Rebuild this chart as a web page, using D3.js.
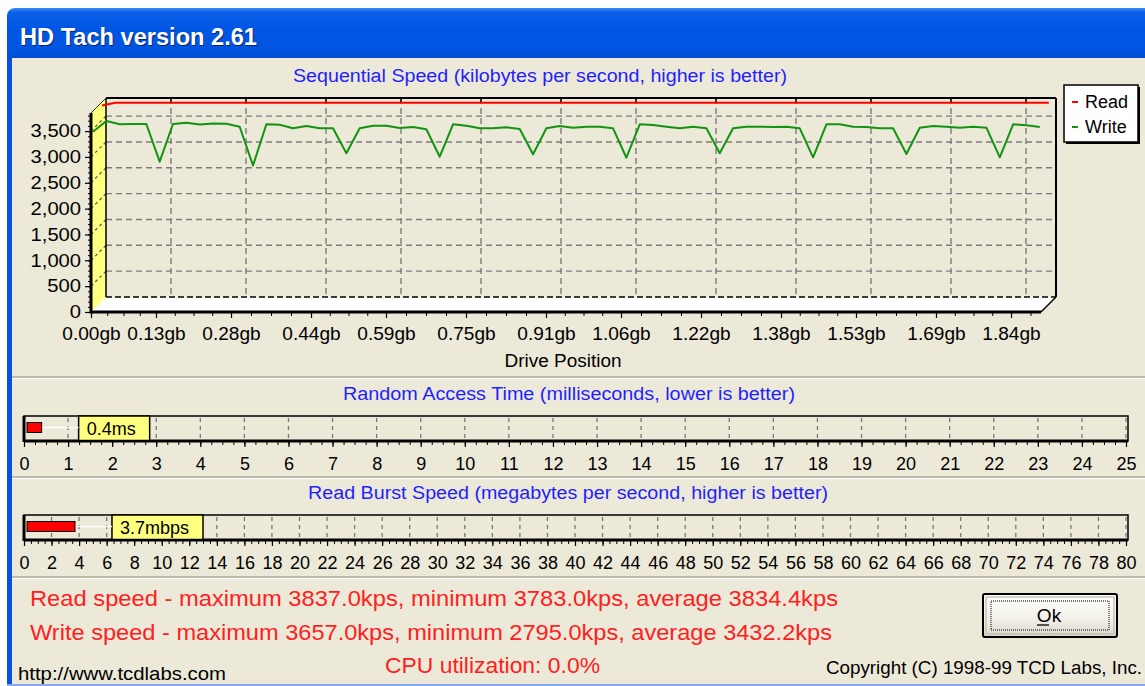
<!DOCTYPE html>
<html><head><meta charset="utf-8">
<script src="https://cdn.jsdelivr.net/npm/d3@7/dist/d3.min.js"></script>
<style>
body{margin:0;background:#fff;}
svg{display:block;font-family:"Liberation Sans",Arial,sans-serif;}
</style>
</head><body>
<svg id="c" width="1145" height="686"></svg>
<script>
// ---------------- DATA ----------------
const seriesNames = ["Read", "Write"];
const readSpeed = [
  3783,3836,3835,3837,3835,3834,3836,3835,3837,3834,3835,3836,
  3835,3834,3836,3837,3835,3834,3835,3836,3834,3835,3837,3836,
  3835,3834,3836,3835,3834,3835,3837,3836,3834,3835,3836,3835,
  3834,3837,3835,3836,3834,3835,3836,3835,3837,3834,3835,3836,
  3835,3834,3836,3837,3835,3834,3835,3836,3834,3835,3837,3836,
  3835,3834,3836,3835,3834,3835,3837,3836,3834,3835,3836,3835
];
const writeSpeed = [
  3449,3657,3593,3598,3598,2869,3598,3624,3590,3610,3605,3546,
  2795,3593,3585,3515,3560,3515,3515,3032,3515,3566,3566,3521,
  3540,3496,2966,3593,3566,3515,3515,3534,3502,3012,3515,3560,
  3527,3546,3546,3515,2946,3593,3579,3546,3515,3546,3515,3032,
  3515,3546,3546,3540,3546,3515,2954,3593,3593,3546,3540,3515,
  3515,3018,3527,3560,3546,3527,3546,3527,2954,3593,3573,3540
];
const sampleStepGb = 0.02667;          // drive position between samples
const driveSizeGb = 1.9;
const speedMax = 3850;
const yTickValues = [0,500,1000,1500,2000,2500,3000,3500];
const xTickValues = [0,0.13,0.28,0.44,0.59,0.75,0.91,1.06,1.22,1.38,1.53,1.69,1.84];
const xTickLabels = ["0.00gb","0.13gb","0.28gb","0.44gb","0.59gb","0.75gb","0.91gb","1.06gb","1.22gb","1.38gb","1.53gb","1.69gb","1.84gb"];

const accessTimeMs = 0.4;
const accessLabel = "0.4ms";
const accessTicks = d3.range(0, 26, 1);
const burstMbps = 3.7;
const burstLabel = "3.7mbps";
const burstTicks = d3.range(0, 81, 2);

const statLines = [
  "Read speed - maximum 3837.0kps, minimum 3783.0kps, average 3834.4kps",
  "Write speed - maximum 3657.0kps, minimum 2795.0kps, average 3432.2kps"
];
const cpuText = "CPU utilization: 0.0%";

// ---------------- DRAW ----------------
const W = 1145, H = 686;
const BG = "#ECE9D8";
const BLUE_T = "#1f1fff";
const RED_T = "#ff2020";
const svg = d3.select("#c");
const defs = svg.append("defs");

const tg = defs.append("linearGradient").attr("id","tbar").attr("x1",0).attr("y1",0).attr("x2",0).attr("y2",1);
[["0%","#3d8cf6"],["8%","#0c5fe8"],["40%","#0056e4"],["85%","#0054e0"],["100%","#0046c8"]]
  .forEach(([o,c]) => tg.append("stop").attr("offset",o).attr("stop-color",c));
const bg2 = defs.append("linearGradient").attr("id","btn").attr("x1",0).attr("y1",0).attr("x2",0).attr("y2",1);
[["0%","#ffffff"],["60%","#f1efe6"],["100%","#d9d5c8"]]
  .forEach(([o,c]) => bg2.append("stop").attr("offset",o).attr("stop-color",c));

function txt(parent, x, y, s, o = {}) {
  const t = parent.append("text").attr("x", x).attr("y", y).text(s)
    .attr("font-size", o.size || 18).attr("fill", o.fill || "#000")
    .attr("text-anchor", o.anchor || "start");
  if (o.weight) t.attr("font-weight", o.weight);
  if (o.len) t.attr("textLength", o.len).attr("lengthAdjust", "spacingAndGlyphs");
  return t;
}

// window
svg.append("rect").attr("width", W).attr("height", H).attr("fill", "#fff");
svg.append("rect").attr("x", 7).attr("y", 30).attr("width", W).attr("height", H).attr("fill", "#0a50dc");
svg.append("rect").attr("x", 7).attr("y", 8).attr("width", W + 20).attr("height", 52).attr("rx", 8).attr("fill", "url(#tbar)");
svg.append("rect").attr("x", 12).attr("y", 58).attr("width", W - 12).attr("height", H - 58 - 2).attr("fill", BG);
svg.append("rect").attr("x", 7).attr("y", H - 2).attr("width", W).attr("height", 2).attr("fill", "#86a8ee");
txt(svg, 21, 46, "HD Tach version 2.61", {size: 23, weight: "bold", fill: "#0a246a", len: 237});
txt(svg, 20, 45, "HD Tach version 2.61", {size: 23, weight: "bold", fill: "#ffffff", len: 237});

// separators
[377, 477, 577].forEach(yy => {
  svg.append("line").attr("x1", 12).attr("x2", W).attr("y1", yy).attr("y2", yy).attr("stroke", "#aca899").attr("stroke-width", 1.5);
  svg.append("line").attr("x1", 12).attr("x2", W).attr("y1", yy + 1.5).attr("y2", yy + 1.5).attr("stroke", "#ffffff").attr("stroke-width", 1);
});

// ---------- Sequential chart ----------
const x = d3.scaleLinear().domain([0, driveSizeGb]).range([91, 1041]);
const y = d3.scaleLinear().domain([0, speedMax]).range([312, 113]);
const D = 15;
const ch = svg.append("g");
const X0 = x(0), X1 = x(driveSizeGb), Y0 = y(0), YT = y(speedMax);

txt(ch, 293, 82, "Sequential Speed (kilobytes per second, higher is better)", {fill: BLUE_T, len: 494});

// left wall
ch.append("path").attr("d", `M${X0},${YT}L${X0 + D},${YT - D}L${X0 + D},${Y0 - D}L${X0},${Y0}Z`).attr("fill", "#ffff80");
// floor
ch.append("path").attr("d", `M${X0},${Y0}L${X0 + D},${Y0 - D}L${X1 + D},${Y0 - D}L${X1},${Y0}Z`).attr("fill", "#ffffff");

// horizontal grid on back wall and wall
yTickValues.filter(v => v > 0).forEach(v => {
  ch.append("line").attr("x1", X0 + D).attr("x2", X1 + D).attr("y1", y(v) - D).attr("y2", y(v) - D)
    .attr("stroke", "#7c7c7c").attr("stroke-width", 1.4).attr("stroke-dasharray", "6,4");
  ch.append("line").attr("x1", X0).attr("x2", X0 + D).attr("y1", y(v)).attr("y2", y(v) - D)
    .attr("stroke", "#555").attr("stroke-width", 1.2).attr("stroke-dasharray", "3,3");
});
// vertical grid on back wall
xTickValues.filter(v => v > 0).forEach(v => {
  ch.append("line").attr("x1", x(v) + D).attr("x2", x(v) + D).attr("y1", YT - D).attr("y2", Y0 - D)
    .attr("stroke", "#7c7c7c").attr("stroke-width", 1.4).attr("stroke-dasharray", "6,4");
  ch.append("line").attr("x1", x(v) + D).attr("x2", x(v) + D).attr("y1", YT - D).attr("y2", YT - D + 4)
    .attr("stroke", "#000").attr("stroke-width", 1.4);
});

// frame edges
ch.append("line").attr("x1", X0 + D).attr("x2", X1 + D).attr("y1", Y0 - D).attr("y2", Y0 - D)
  .attr("stroke", "#000").attr("stroke-width", 1.6).attr("stroke-dasharray", "6,3");
ch.append("line").attr("x1", X0 + D).attr("x2", X1 + D).attr("y1", YT - D).attr("y2", YT - D).attr("stroke", "#000").attr("stroke-width", 2);
ch.append("line").attr("x1", X1 + D).attr("x2", X1 + D).attr("y1", YT - D).attr("y2", Y0 - D).attr("stroke", "#000").attr("stroke-width", 2);
ch.append("line").attr("x1", X0 + D).attr("x2", X0 + D).attr("y1", YT - D).attr("y2", Y0 - D).attr("stroke", "#000").attr("stroke-width", 1.5);
ch.append("line").attr("x1", X0).attr("x2", X0 + D).attr("y1", YT).attr("y2", YT - D).attr("stroke", "#333").attr("stroke-width", 1);
ch.append("line").attr("x1", X1).attr("x2", X1 + D).attr("y1", Y0).attr("y2", Y0 - D).attr("stroke", "#000").attr("stroke-width", 1.5);

// series (each on its own depth slot)
const series = [
  {name: seriesNames[0], data: readSpeed, color: "#ff0000", dz: 11},
  {name: seriesNames[1], data: writeSpeed, color: "#119411", dz: 2}
];
series.forEach(s => {
  const ln = d3.line().x((d, i) => x(i * sampleStepGb) + s.dz).y(d => y(d) - s.dz);
  ch.append("path").datum(s.data).attr("d", ln).attr("fill", "none")
    .attr("stroke", s.color).attr("stroke-width", 2).attr("stroke-linejoin", "round");
});

// Y axis
const yMinor = ch.append("g").attr("transform", `translate(${X0},0)`)
  .call(d3.axisLeft(y).tickValues(d3.range(0, speedMax, 100)).tickSize(3).tickFormat(""));
yMinor.select(".domain").remove();
yMinor.selectAll("line").attr("stroke", "#000");
const yAx = ch.append("g").attr("transform", `translate(${X0},0)`)
  .call(d3.axisLeft(y).tickValues(yTickValues).tickSize(6).tickPadding(4).tickFormat(d3.format(",")));
yAx.select(".domain").remove();
yAx.selectAll("line").attr("stroke", "#000").attr("stroke-width", 1.2);
yAx.selectAll("text").attr("font-size", 18).attr("fill", "#000").attr("font-family", null)
  .each(function () { const l = this.getComputedTextLength(); d3.select(this).attr("textLength", l * 1.12).attr("lengthAdjust", "spacingAndGlyphs"); });

// X axis
const minorX = [];
xTickValues.forEach((v, i) => {
  const nx = i < xTickValues.length - 1 ? xTickValues[i + 1] : driveSizeGb + 0.001;
  const st = (i < xTickValues.length - 1 ? (nx - v) : 0.156) / 4;
  for (let k = 1; k < 4; k++) { const m = v + k * st; if (m < driveSizeGb) minorX.push(m); }
});
const xMinor = ch.append("g").attr("transform", `translate(0,${Y0})`)
  .call(d3.axisBottom(x).tickValues(minorX).tickSize(4).tickFormat(""));
xMinor.select(".domain").remove();
xMinor.selectAll("line").attr("stroke", "#000");
const xAx = ch.append("g").attr("transform", `translate(0,${Y0})`)
  .call(d3.axisBottom(x).tickValues(xTickValues).tickSize(6).tickPadding(9).tickFormat((d, i) => xTickLabels[i]));
xAx.select(".domain").remove();
xAx.selectAll("line").attr("stroke", "#000").attr("stroke-width", 1.2);
xAx.selectAll("text").attr("font-size", 18).attr("fill", "#000").attr("font-family", null)
  .each(function () { const l = this.getComputedTextLength(); d3.select(this).attr("textLength", l * 1.06).attr("lengthAdjust", "spacingAndGlyphs"); });

// front thick edges
ch.append("line").attr("x1", X0).attr("x2", X1).attr("y1", Y0).attr("y2", Y0).attr("stroke", "#000").attr("stroke-width", 3);
ch.append("line").attr("x1", X0).attr("x2", X0).attr("y1", YT).attr("y2", Y0 + 1.5).attr("stroke", "#000").attr("stroke-width", 3);

txt(ch, 563, 367, "Drive Position", {anchor: "middle", len: 117});

// legend
const lg = ch.append("g");
lg.append("rect").attr("x", 1066).attr("y", 87).attr("width", 74).attr("height", 57).attr("fill", "#000");
lg.append("rect").attr("x", 1064).attr("y", 85).attr("width", 74).attr("height", 57).attr("fill", "#fff").attr("stroke", "#000").attr("stroke-width", 1.5);
series.forEach((s, i) => {
  const yy = 102 + i * 25;
  lg.append("line").attr("x1", 1072).attr("x2", 1078).attr("y1", yy).attr("y2", yy).attr("stroke", s.color).attr("stroke-width", 2);
  txt(lg, 1085, 108 + i * 25, s.name, {size: 18});
});

// ---------- horizontal bar gauges ----------
function gauge(cfg) {
  const g = svg.append("g");
  const sx = d3.scaleLinear().domain([0, cfg.ticks[cfg.ticks.length - 1]]).range([24, 1126]);
  const top = cfg.top, bot = cfg.top + 25;
  txt(g, cfg.titleX, cfg.titleY, cfg.title, {fill: BLUE_T, len: cfg.titleLen});
  g.append("rect").attr("x", 24).attr("y", top).attr("width", 1104).attr("height", 25)
    .attr("fill", BG).attr("stroke", "#000").attr("stroke-width", 1.5);
  cfg.ticks.filter(t => t > 0).forEach(t => {
    g.append("line").attr("x1", sx(t)).attr("x2", sx(t)).attr("y1", top + 2).attr("y2", bot - 2)
      .attr("stroke", "#777").attr("stroke-width", 1.3).attr("stroke-dasharray", "4,4");
  });
  g.append("line").attr("x1", 24).attr("x2", 24).attr("y1", top).attr("y2", bot + 1).attr("stroke", "#000").attr("stroke-width", 3);
  g.append("line").attr("x1", 24).attr("x2", 1128).attr("y1", bot).attr("y2", bot).attr("stroke", "#000").attr("stroke-width", 3);
  // bar
  const be = sx(cfg.value);
  g.append("rect").attr("x", 27).attr("y", top + 6.5).attr("width", be - 27).attr("height", 10)
    .attr("fill", "#ff0000").attr("stroke", "#000").attr("stroke-width", 1);
  // label
  const lx = be + 37;
  const tt = txt(g, lx + 8, top + 19, cfg.label, {size: 18});
  const tl = tt.node().getComputedTextLength();
  g.append("line").attr("x1", be + 1).attr("x2", lx).attr("y1", top + 11.5).attr("y2", top + 11.5).attr("stroke", "#fff").attr("stroke-width", 1.5);
  g.insert("rect", "text:last-of-type").attr("x", lx).attr("y", top).attr("width", tl + 22).attr("height", 24.5)
    .attr("fill", "#ffff80").attr("stroke", "#000").attr("stroke-width", 1.5);
  tt.raise();
  // axis
  const mn = g.append("g").attr("transform", `translate(0,${bot})`)
    .call(d3.axisBottom(sx).tickValues(d3.range(0, sx.domain()[1], cfg.minor)).tickSize(4).tickFormat(""));
  mn.select(".domain").remove(); mn.selectAll("line").attr("stroke", "#000");
  const ax = g.append("g").attr("transform", `translate(0,${bot})`)
    .call(d3.axisBottom(sx).tickValues(cfg.ticks).tickSize(6).tickPadding(10).tickFormat(d3.format("d")));
  ax.select(".domain").remove();
  ax.selectAll("line").attr("stroke", "#000").attr("stroke-width", 1.2);
  ax.selectAll("text").attr("font-size", 18).attr("fill", "#000").attr("font-family", null);
}
gauge({top: 416, title: "Random Access Time (milliseconds, lower is better)", titleX: 343, titleY: 400, titleLen: 452,
  ticks: accessTicks, minor: 0.25, value: accessTimeMs, label: accessLabel});
gauge({top: 515, title: "Read Burst Speed (megabytes per second, higher is better)", titleX: 308, titleY: 499, titleLen: 520,
  ticks: burstTicks, minor: 0.5, value: burstMbps, label: burstLabel});

// ---------- bottom texts ----------
txt(svg, 30, 606, statLines[0], {size: 22, fill: RED_T, len: 808});
txt(svg, 30, 640, statLines[1], {size: 22, fill: RED_T, len: 802});
txt(svg, 385, 673, cpuText, {size: 22, fill: RED_T, len: 215});
txt(svg, 18, 680, "http://www.tcdlabs.com", {size: 18, len: 208});
txt(svg, 826, 674, "Copyright (C) 1998-99 TCD Labs, Inc.", {size: 19, len: 316});

// Ok button
const b = svg.append("g");
b.append("rect").attr("x", 983).attr("y", 594).attr("width", 134).attr("height", 43).attr("rx", 2).attr("fill", "url(#btn)").attr("stroke", "#000").attr("stroke-width", 2);
b.append("rect").attr("x", 986).attr("y", 597).attr("width", 128).attr("height", 37).attr("fill", "none").attr("stroke", "#c9c4b4").attr("stroke-width", 1.5);
b.append("rect").attr("x", 991).attr("y", 601).attr("width", 118).attr("height", 29).attr("fill", "none").attr("stroke", "#000").attr("stroke-width", 1).attr("stroke-dasharray", "1,1");
txt(b, 1049, 622, "Ok", {size: 19, anchor: "middle"});
b.append("line").attr("x1", 1037).attr("x2", 1049).attr("y1", 625).attr("y2", 625).attr("stroke", "#000").attr("stroke-width", 1.3);
</script>
</body></html>
